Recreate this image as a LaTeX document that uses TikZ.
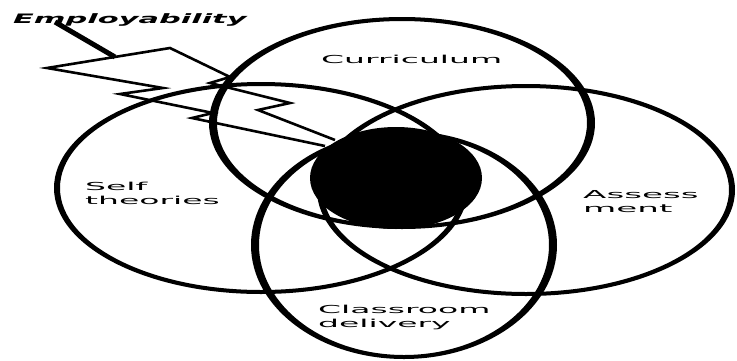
\documentclass[tikz,border=0pt]{standalone}
\usepackage{fontspec}
\setmainfont{DejaVu Sans}
\usepackage{graphicx}
\tikzset{
ring/.style={fill=black,even odd rule},
blob/.style={fill=black},
bolt/.style={line width=2.6pt,line join=miter},
stem/.style={line width=5pt},
tag/.style={inner sep=0pt,anchor=base west,font=\fontsize{11}{14}\selectfont}
}
\newcommand{\stretched}[2]{\scalebox{#1}[1]{\begin{tabular}[t]{@{}l@{}}#2\end{tabular}}}

\begin{document}
\begin{tikzpicture}[x=1pt,y=-1pt]
\useasboundingbox (0,0) rectangle (737,360);
\coordinate (cur) at (402,123);
\coordinate (self) at (261,188);
\coordinate (ass) at (526,190);
\coordinate (cls) at (404,245);
\coordinate (core) at (396,178);
% four rings
\fill[ring] (cur) ellipse [x radius=193pt,y radius=106pt] (cur) ellipse [x radius=185pt,y radius=102pt];
\fill[ring] (self) ellipse [x radius=207pt,y radius=106pt] (self) ellipse [x radius=201pt,y radius=102pt];
\fill[ring] (ass) ellipse [x radius=209pt,y radius=106pt] (ass) ellipse [x radius=203pt,y radius=102pt];
\fill[ring] (cls) ellipse [x radius=153pt,y radius=114pt] (cls) ellipse [x radius=145pt,y radius=110pt];
% lightning
\draw[stem] (55,22) -- (115,57);
\draw[bolt] (335,140) -- (258,110) -- (290,103) -- (210,83) -- (230,77) -- (170,48) -- (47,68)
  -- (163,88) -- (120,94) -- (213,113) -- (192,118) -- (325,146);
\fill[blob] (core) ellipse [x radius=86pt,y radius=51pt];
% labels
\node[tag,font=\fontsize{13}{15}\selectfont] (emp) at (13,23) {\stretched{2.34}{\bfseries\itshape Employability}};
\node[tag] (curl) at (321,63) {\stretched{3.0}{Curriculum}};
\node[tag] (selfl) at (85,190) {\stretched{3.0}{Self\\theories}};
\node[tag] (assl) at (583,198) {\stretched{3.1}{Assess\\ment}};
\node[tag] (clsl) at (318,313) {\stretched{3.0}{Classroom\\delivery}};
\end{tikzpicture}
\end{document}
